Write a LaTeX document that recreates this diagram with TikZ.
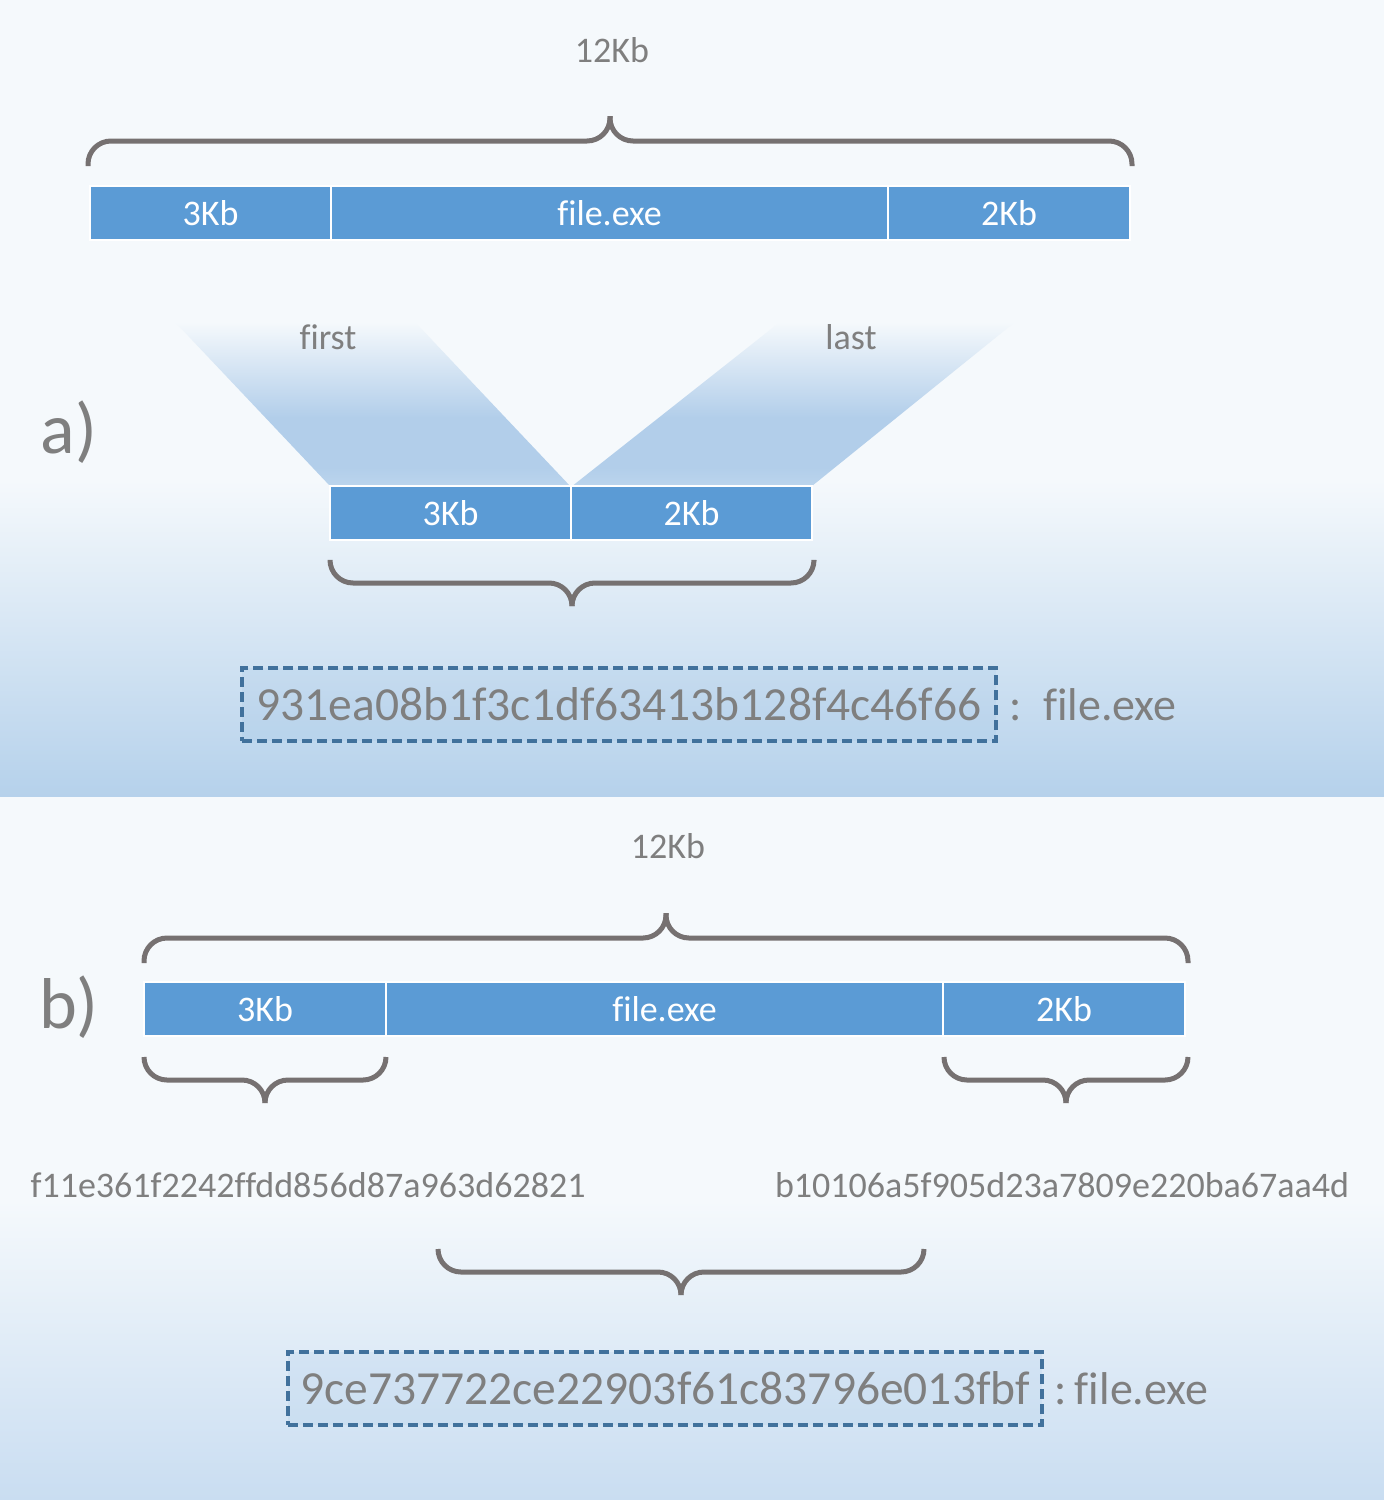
\documentclass[tikz,border=0pt]{standalone}
\usepackage{fontspec}
\setmainfont{Carlito}[Ligatures=NoCommon]
\usepackage{tikz}
\usetikzlibrary{positioning}

\definecolor{bgpale}{HTML}{F5F9FC}
\definecolor{bgblue}{HTML}{B5D1EB}
\definecolor{bgblueb}{HTML}{C9DDF1}
\definecolor{segblue}{HTML}{5B9BD5}
\definecolor{funnelblue}{HTML}{B2CEEA}
\definecolor{funnelbot}{HTML}{BCD5ED}
\definecolor{bracegray}{HTML}{767171}
\definecolor{txtgray}{HTML}{7F7F7F}
\definecolor{boxblue}{HTML}{41719C}

\pgfdeclareverticalshading{funnelshade}{100bp}{color(0bp)=(funnelbot); color(25bp)=(funnelbot);
  color(31bp)=(funnelblue); color(46bp)=(funnelblue); color(75bp)=(bgpale); color(100bp)=(bgpale)}

\tikzset{
  seg/.style={fill=segblue, draw=white, line width=1.5pt, text=white, inner sep=0pt,
    outer sep=0pt, minimum height=54pt, font=\fontsize{36}{40}\selectfont},
  lbl/.style={text=txtgray, inner sep=0pt, font=\fontsize{36}{40}\selectfont},
  part/.style={text=txtgray, inner sep=0pt, font=\fontsize{72}{78}\selectfont},
  hashbox/.style={draw=boxblue, line width=3.5pt, dash pattern=on 10pt off 5pt,
    fill=segblue, fill opacity=0.08, text opacity=1, text=txtgray, inner sep=0pt,
    minimum height=73pt, font=\fontsize{47.5}{52}\selectfont},
  fname/.style={text=txtgray, inner sep=0pt, anchor=west, font=\fontsize{46}{52}\selectfont},
  brc/.style={draw=bracegray, line width=5pt, rounded corners=23pt},
  funnel/.style={shading=funnelshade}
}

% curly brace: x1, x2, y of the ends, step (negative = up)
\newcommand{\curly}[4]{%
  \draw[brc] (#1,#3) -- (#1,{#3+(#4)}) -- ({(#1+#2)/2},{#3+(#4)}) -- ({(#1+#2)/2},{#3+2*(#4)});
  \draw[brc] (#2,#3) -- (#2,{#3+(#4)}) -- ({(#1+#2)/2},{#3+(#4)}) -- ({(#1+#2)/2},{#3+2*(#4)});
}

\begin{document}
\begin{tikzpicture}[x=1pt, y=-1pt]
  % background
  \useasboundingbox (0,0) rectangle (1384,1500);
  \fill[bgpale] (0,0) rectangle (1384,480);
  \shade[top color=bgpale, bottom color=bgblue] (0,480) rectangle (1384,797);
  \fill[bgpale] (0,797) rectangle (1384,1200);
  \shade[top color=bgpale, bottom color=bgblueb] (0,1200) rectangle (1384,1500);

  % a)
  \node[part] (pa) at (69,432) {a)};
  \node[lbl] (sizea) at (612,50) {12Kb};
  \curly{88}{1132}{166}{-25}

  \node[seg, minimum width=241pt, anchor=west] (ta1) at (90,213) {3Kb};
  \node[seg, minimum width=557pt, right=0pt of ta1] (ta2) {file.exe};
  \node[seg, minimum width=242pt, right=0pt of ta2] (ta3) {2Kb};

  \shade[funnel] (175,322) -- (415,322) -- (571,487) -- (330,486) -- cycle;
  \shade[funnel] (780,322) -- (1015,322) -- (812,486) -- (571,487) -- cycle;
  \node[lbl] (first) at (328,337) {first};
  \node[lbl] (last) at (851,337) {last};

  \node[seg, minimum width=241pt, anchor=west] (ma1) at (330,513) {3Kb};
  \node[seg, minimum width=241pt, right=0pt of ma1] (ma2) {2Kb};
  \curly{330}{814}{561}{22}

  \node[hashbox, minimum width=754pt] (hasha) at (619,704.5) {931ea08b1f3c1df63413b128f4c46f66};
  \node[fname, right=12pt of hasha] (filea) {:\ \ file.exe};

  % b)
  \node[part] (pb) at (69,1007) {b)};
  \node[lbl] (sizeb) at (668,846) {12Kb};
  \curly{144}{1188}{963}{-25}

  \node[seg, minimum width=242pt, anchor=west] (tb1) at (144,1009) {3Kb};
  \node[seg, minimum width=557pt, right=0pt of tb1] (tb2) {file.exe};
  \node[seg, minimum width=242pt, right=0pt of tb2] (tb3) {2Kb};

  \curly{144}{386}{1057}{23}
  \curly{944}{1188}{1057}{23}

  \node[lbl] (hfirst) at (308,1185) {f11e361f2242ffdd856d87a963d62821};
  \node[lbl] (hlast) at (1062,1185) {b10106a5f905d23a7809e220ba67aa4d};

  \curly{438}{924}{1249}{23}

  \node[hashbox, minimum width=754pt] (hashb) at (665,1388.5) {9ce737722ce22903f61c83796e013fbf};
  \node[fname, right=11pt of hashb] (fileb) {:\,file.exe};
\end{tikzpicture}
\end{document}
